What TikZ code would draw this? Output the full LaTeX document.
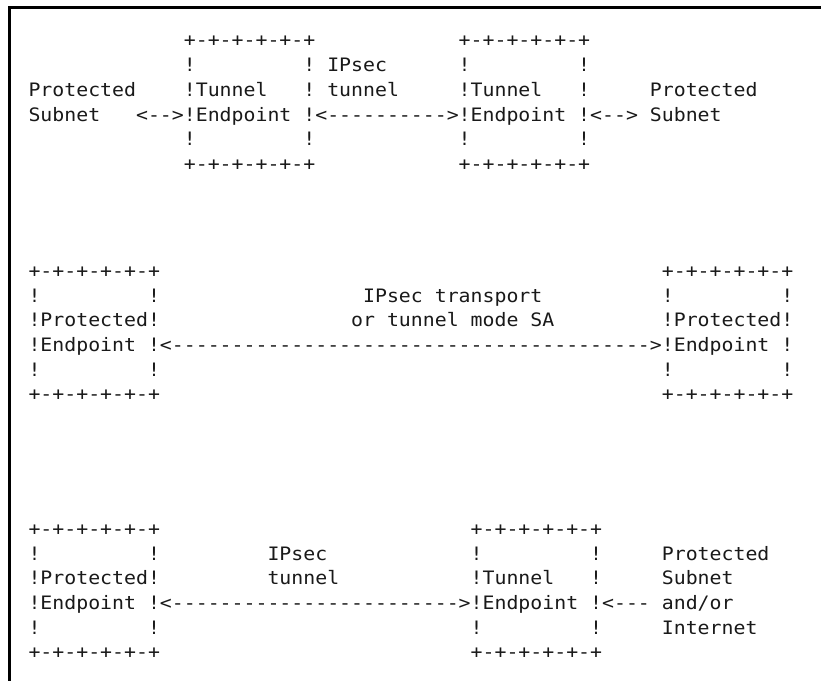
\documentclass[tikz,border=0pt]{standalone}
\usepackage{fontspec}
\newfontfamily\asciitt{DejaVu Sans Mono}[Ligatures=TeXOff,FakeStretch=1.073]
\definecolor{ink}{RGB}{25,25,25}
\begin{document}
\begin{tikzpicture}[x=11.95pt,y=-24.7pt,
  cell/.style={anchor=base west,inner sep=0pt,outer sep=0pt,text=ink,
    font=\asciitt\fontsize{18.5pt}{24pt}\selectfont},
  frame/.style={line width=3pt,draw=black,line join=miter}]
\useasboundingbox (0pt,0pt) rectangle (821pt,-681pt);
% window frame (top and left edges)
\draw[frame] (821pt,-7.5pt) -- (9.5pt,-7.5pt) -- (9.5pt,-681pt);

% gateway to gateway, tunnel mode
\begin{scope}[shift={(28.5pt,-46.9pt)}]
  \node[cell] (a0l) at (13,0) {+-+-+-+-+-+};
  \node[cell] (a0r) at (36,0) {+-+-+-+-+-+};
  \node[cell] (a1a) at (13,1) {!};
  \node[cell] (a1b) at (23,1) {!};
  \node[cell] (a1c) at (25,1) {IPsec};
  \node[cell] (a1d) at (36,1) {!};
  \node[cell] (a1e) at (46,1) {!};
  \node[cell] (a2a) at (0,2) {Protected};
  \node[cell] (a2b) at (13,2) {!Tunnel};
  \node[cell] (a2c) at (23,2) {!};
  \node[cell] (a2d) at (25,2) {tunnel};
  \node[cell] (a2e) at (36,2) {!Tunnel};
  \node[cell] (a2f) at (46,2) {!};
  \node[cell] (a2g) at (52,2) {Protected};
  \node[cell] (a3a) at (0,3) {Subnet};
  \node[cell] (a3b) at (9,3) {<-->!Endpoint};
  \node[cell] (a3c) at (23,3) {!<---------->!Endpoint};
  \node[cell] (a3d) at (46,3) {!<-->};
  \node[cell] (a3e) at (52,3) {Subnet};
  \node[cell] (a4a) at (13,4) {!};
  \node[cell] (a4b) at (23,4) {!};
  \node[cell] (a4c) at (36,4) {!};
  \node[cell] (a4d) at (46,4) {!};
  \node[cell] (a5l) at (13,5) {+-+-+-+-+-+};
  \node[cell] (a5r) at (36,5) {+-+-+-+-+-+};
\end{scope}

% endpoint to endpoint
\begin{scope}[shift={(28.5pt,-277.3pt)}]
  \node[cell] (b0l) at (0,0) {+-+-+-+-+-+};
  \node[cell] (b0r) at (53,0) {+-+-+-+-+-+};
  \node[cell] (b1a) at (0,1) {!};
  \node[cell] (b1b) at (10,1) {!};
  \node[cell] (b1c) at (28,1) {IPsec transport};
  \node[cell] (b1d) at (53,1) {!};
  \node[cell] (b1e) at (63,1) {!};
  \node[cell] (b2a) at (0,2) {!Protected!};
  \node[cell] (b2b) at (27,2) {or tunnel mode SA};
  \node[cell] (b2c) at (53,2) {!Protected!};
  \node[cell] (b3a) at (0,3) {!Endpoint};
  \node[cell] (b3b) at (10,3) {!<---------------------------------------->!Endpoint};
  \node[cell] (b3c) at (63,3) {!};
  \node[cell] (b4a) at (0,4) {!};
  \node[cell] (b4b) at (10,4) {!};
  \node[cell] (b4c) at (53,4) {!};
  \node[cell] (b4d) at (63,4) {!};
  \node[cell] (b5l) at (0,5) {+-+-+-+-+-+};
  \node[cell] (b5r) at (53,5) {+-+-+-+-+-+};
\end{scope}

% endpoint to gateway
\begin{scope}[shift={(28.5pt,-535.3pt)}]
  \node[cell] (c0l) at (0,0) {+-+-+-+-+-+};
  \node[cell] (c0r) at (37,0) {+-+-+-+-+-+};
  \node[cell] (c1a) at (0,1) {!};
  \node[cell] (c1b) at (10,1) {!};
  \node[cell] (c1c) at (20,1) {IPsec};
  \node[cell] (c1d) at (37,1) {!};
  \node[cell] (c1e) at (47,1) {!};
  \node[cell] (c1f) at (53,1) {Protected};
  \node[cell] (c2a) at (0,2) {!Protected!};
  \node[cell] (c2b) at (20,2) {tunnel};
  \node[cell] (c2c) at (37,2) {!Tunnel};
  \node[cell] (c2d) at (47,2) {!};
  \node[cell] (c2e) at (53,2) {Subnet};
  \node[cell] (c3a) at (0,3) {!Endpoint};
  \node[cell] (c3b) at (10,3) {!<------------------------>!Endpoint};
  \node[cell] (c3c) at (47,3) {!<---};
  \node[cell] (c3d) at (53,3) {and/or};
  \node[cell] (c4a) at (0,4) {!};
  \node[cell] (c4b) at (10,4) {!};
  \node[cell] (c4c) at (37,4) {!};
  \node[cell] (c4d) at (47,4) {!};
  \node[cell] (c4e) at (53,4) {Internet};
  \node[cell] (c5l) at (0,5) {+-+-+-+-+-+};
  \node[cell] (c5r) at (37,5) {+-+-+-+-+-+};
\end{scope}
\end{tikzpicture}
\end{document}
